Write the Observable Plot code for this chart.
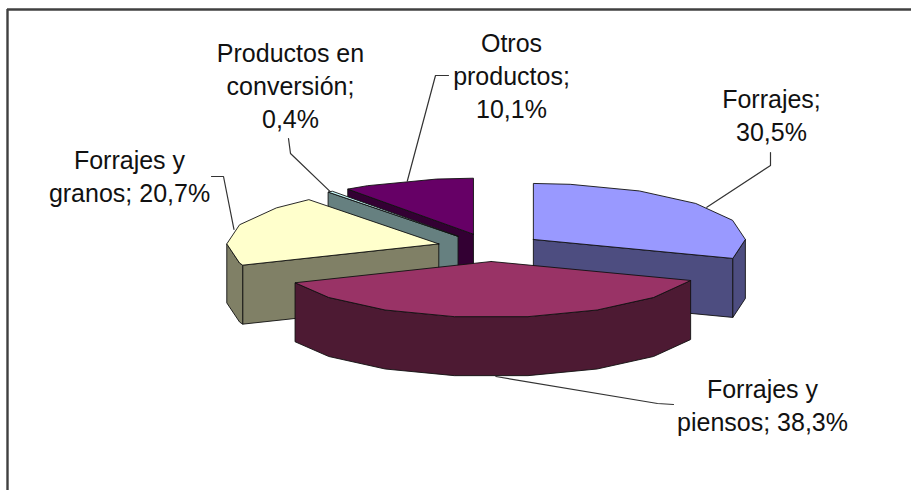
<!DOCTYPE html>
<html lang="es">
<head>
<meta charset="utf-8">
<script src="https://cdn.jsdelivr.net/npm/d3@7"></script>
<script src="https://cdn.jsdelivr.net/npm/@observablehq/plot@0.6"></script>
<style>
html,body{margin:0;padding:0;background:#fff;overflow:hidden}
svg{display:block}
</style>
</head>
<body>
<div id="chart"></div>
<script>
// Data
const categories = ["Forrajes", "Forrajes y piensos", "Forrajes y granos", "Productos en conversión", "Otros productos"];
const shares = [30.5, 38.3, 20.7, 0.4, 10.1];
const labels = ["Forrajes;\n30,5%", "Forrajes y\npiensos; 38,3%", "Forrajes y\ngranos; 20,7%", "Productos en\nconversión;\n0,4%", "Otros\nproductos;\n10,1%"];
const topColors = ["#9999ff", "#993366", "#ffffcc", "#ccffff", "#660066"];
const sideColors = ["#4d4d80", "#4d1a33", "#808066", "#668080", "#330033"];

// Layout (pixels)
const W = 911, H = 490;
const cx = 489.5, cy = 247, rx = 212, ry = 56, depthPx = 59;
const explode = 0.25;
const arcStep = 20, arcPhase = 10;
const depth = depthPx / ry;
const unitX = (p) => (p - cx) / rx;
const unitY = (p) => (cy - p) / ry;
const labelAt = [[771, 113], [762, 403], [129, 174], [290, 84], [511, 73.5]];
const elbows = [
  [[770, 165], [770, 152]],
  [[657, 403], [673, 404]],
  [[223, 176], [211, 176]],
  [[290, 153], [288, 138]],
  [[435, 75], [448, 75]]
];

// Geometry of the exploded 3-D pie, in pie units, from the shares
const rad = (deg) => (deg * Math.PI) / 180;
const total = d3.sum(shares);
let run = 0;
const slices = shares.map((v, i) => {
  const a0 = (run / total) * 360;
  run += v;
  const a1 = (run / total) * 360;
  const mid = rad((a0 + a1) / 2);
  return {i, a0, a1, mid, ox: explode * Math.sin(mid), oy: explode * Math.cos(mid)};
});
const rim = (s, deg, drop = 0) => [s.ox + Math.sin(rad(deg)), s.oy + Math.cos(rad(deg)) - drop];
// The rim is a coarse polygon, with vertices on a fixed angular grid
const arc = (s, from, to, drop = 0) => {
  const lo = Math.min(from, to), hi = Math.max(from, to);
  const first = Math.ceil((lo - arcPhase) / arcStep + 1e-9) * arcStep + arcPhase;
  const inner = d3.range(first, hi - 1e-9, arcStep);
  const angles = [lo, ...inner, hi];
  if (from > to) angles.reverse();
  return angles.map((deg) => rim(s, deg, drop));
};

const polys = [];
const addPoly = (id, fill, pts) => {
  [...pts, pts[0]].forEach(([x, y]) => polys.push({id, fill, x, y}));
};
// Slices painted back to front
[4, 3, 2, 0, 1].forEach((i) => {
  const s = slices[i];
  const apex = [s.ox, s.oy], apexLow = [s.ox, s.oy - depth];
  const side = sideColors[i];
  const cut = (deg, tag) => addPoly(`${i}-${tag}`, side, [apex, rim(s, deg), rim(s, deg, depth), apexLow]);
  if (Math.sin(rad(s.a0)) < -1e-6) cut(s.a0, "start");
  if (Math.sin(rad(s.a1)) > 1e-6) cut(s.a1, "end");
  const from = Math.max(s.a0, 90), to = Math.min(s.a1, 270);
  if (to > from) addPoly(`${i}-wall`, side, [...arc(s, from, to), ...arc(s, to, from, depth)]);
  addPoly(`${i}-top`, topColors[i], [apex, ...arc(s, s.a0, s.a1)]);
});

// Leader lines start on each slice's rim at its middle angle
const leaders = [];
slices.forEach((s, i) => {
  const deg = (s.mid * 180) / Math.PI;
  const start = rim(s, deg, deg > 90 && deg < 270 ? depth : 0);
  leaders.push({id: i, x: start[0], y: start[1]});
  elbows[i].forEach(([px, py]) => leaders.push({id: i, x: unitX(px), y: unitY(py)}));
});

const textRows = labels.map((text, i) => ({text, name: categories[i], x: unitX(labelAt[i][0]), y: unitY(labelAt[i][1])}));

const frameX = unitX(7), frameY = unitY(9);

const chart = Plot.plot({
  width: W,
  height: H,
  margin: 0,
  style: {background: "#fff", overflow: "visible"},
  x: {axis: null, domain: [unitX(0), unitX(W)], range: [0, W]},
  y: {axis: null, domain: [unitY(0), unitY(H)], range: [0, H]},
  color: {type: "identity"},
  marks: [
    Plot.ruleX([frameX], {stroke: "#404040", strokeWidth: 2.4, y1: frameY, y2: unitY(H)}),
    Plot.ruleY([frameY], {stroke: "#404040", strokeWidth: 2.4, x1: frameX, x2: unitX(W)}),
    Plot.line(leaders, {x: "x", y: "y", z: "id", stroke: "#333", strokeWidth: 1.2, curve: "linear"}),
    Plot.line(polys, {x: "x", y: "y", z: "id", fill: "fill", stroke: "#111", strokeWidth: 0.9, strokeLinejoin: "round", curve: "linear"}),
    Plot.text(textRows, {
      x: "x", y: "y", text: "text",
      fontFamily: "'Liberation Sans', Arial, sans-serif",
      fontSize: 25, lineHeight: 1.32, fill: "#111", textAnchor: "middle", lineAnchor: "middle"
    })
  ]
});
document.getElementById("chart").append(chart);
</script>
</body>
</html>
